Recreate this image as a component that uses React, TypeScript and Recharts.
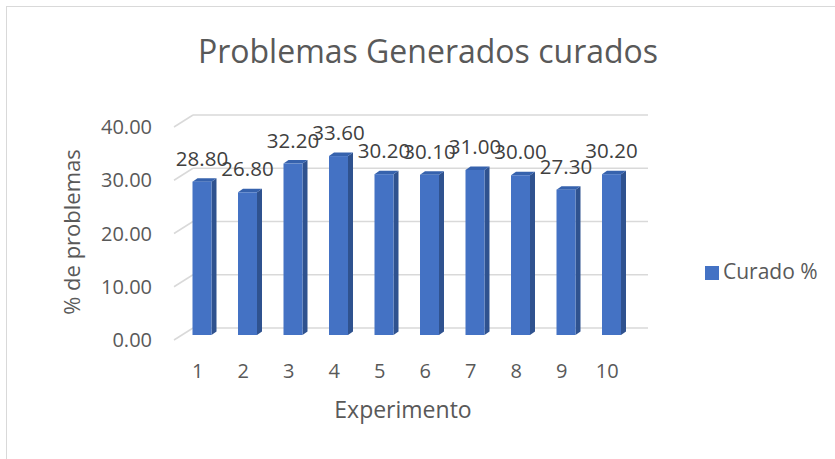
import { BarChart, Bar, XAxis, YAxis, CartesianGrid, Legend, LabelList, Customized } from "recharts";

const experiments = ["1", "2", "3", "4", "5", "6", "7", "8", "9", "10"];
const curado = [28.8, 26.8, 32.2, 33.6, 30.2, 30.1, 31.0, 30.0, 27.3, 30.2];
const yTicks = [0, 10, 20, 30, 40];

const data = experiments.map((e, i) => ({ exp: e, curado: curado[i] }));

const FONT = "'Open Sans', sans-serif";
const GRAY = "#595959";
// back wall offset for the fake 3d look
const WX = 18;
const WY = -12;
// bar sits half-way into the depth
const BX = 4.5;
const BY = -5;
const SD = 5;
const SDY = -3.5;

const gridLine = (p: any) => (
  <g key={p.key ?? `${p.y1}`}>
    <line x1={p.x1 - 1} y1={p.y1} x2={p.x1 + WX} y2={p.y1 + WY} stroke="#d9d9d9" strokeWidth={1.5} />
    <line x1={p.x1 + WX} y1={p.y1 + WY} x2={p.x2 + WX} y2={p.y2 + WY} stroke="#d9d9d9" strokeWidth={1.5} />
  </g>
);

const Bar3D = (p: any) => {
  const x = p.x + BX;
  const y = p.y + BY;
  const w = p.width;
  const h = p.height;
  return (
    <g>
      <polygon
        points={`${x + w},${y} ${x + w + SD},${y + SDY} ${x + w + SD},${y + h + SDY} ${x + w},${y + h}`}
        fill="#2f528f"
      />
      <polygon
        points={`${x},${y} ${x + SD},${y + SDY} ${x + w + SD},${y + SDY} ${x + w},${y}`}
        fill="#3662ad"
      />
      <rect x={x} y={y} width={w} height={h} fill="#4472c4" />
    </g>
  );
};

const valueLabel = (p: any) => (
  <text
    x={p.x + BX + p.width / 2}
    y={p.y + BY - 16}
    textAnchor="middle"
    fill="#404040"
    fontSize={20.5}
    fontFamily={FONT}
  >
    {Number(p.value).toFixed(2)}
  </text>
);

const yTick = (p: any) => (
  <text x={152} y={p.y} dy={7} textAnchor="end" fill={GRAY} fontSize={20} fontFamily={FONT}>
    {Number(p.payload.value).toFixed(2)}
  </text>
);

const xTick = (p: any) => (
  <text x={p.x} y={371} dy={7} textAnchor="middle" fill={GRAY} fontSize={20} fontFamily={FONT}>
    {p.payload.value}
  </text>
);

const Texts = () => (
  <g fontFamily={FONT} fill={GRAY}>
    <text x={428} y={63} textAnchor="middle" fontSize={32}>
      Problemas Generados curados
    </text>
    <text x={403} y={418} textAnchor="middle" fontSize={23}>
      Experimento
    </text>
    <text
      x={72}
      y={232}
      dy={8}
      textAnchor="middle"
      fontSize={22}
      transform="rotate(-90 72 232)"
    >
      % de problemas
    </text>
  </g>
);

export default function App() {
  return (
    <div style={{ position: "absolute", left: 0, top: 0, width: 835, height: 459, background: "#fff" }}>
      <div
        style={{
          position: "absolute",
          left: 6,
          top: 6,
          width: 840,
          height: 460,
          border: "1.5px solid #d9d9d9",
          boxSizing: "border-box",
        }}
      />
      <BarChart
        width={835}
        height={459}
        data={data}
        margin={{ top: 127, right: 205, bottom: 89, left: 0 }}
        barSize={19}
      >
        <CartesianGrid vertical={false} horizontal={gridLine} />
        <XAxis dataKey="exp" axisLine={false} tickLine={false} tick={xTick} interval={0} height={30} />
        <YAxis
          domain={[0, 40]}
          ticks={yTicks}
          axisLine={false}
          tickLine={false}
          tick={yTick}
          width={175}
        />
        <Legend
          layout="vertical"
          align="center"
          verticalAlign="middle"
          iconType="square"
          iconSize={14}
          wrapperStyle={{ left: 705, top: 257, width: 130, fontFamily: FONT, fontSize: 21 }}
          formatter={(v: any) => <span style={{ color: GRAY }}>{v}</span>}
        />
        <Bar dataKey="curado" name="Curado %" fill="#4472c4" shape={Bar3D} isAnimationActive={false}>
          <LabelList dataKey="curado" content={valueLabel} />
        </Bar>
        <Customized component={Texts} />
      </BarChart>
    </div>
  );
}
